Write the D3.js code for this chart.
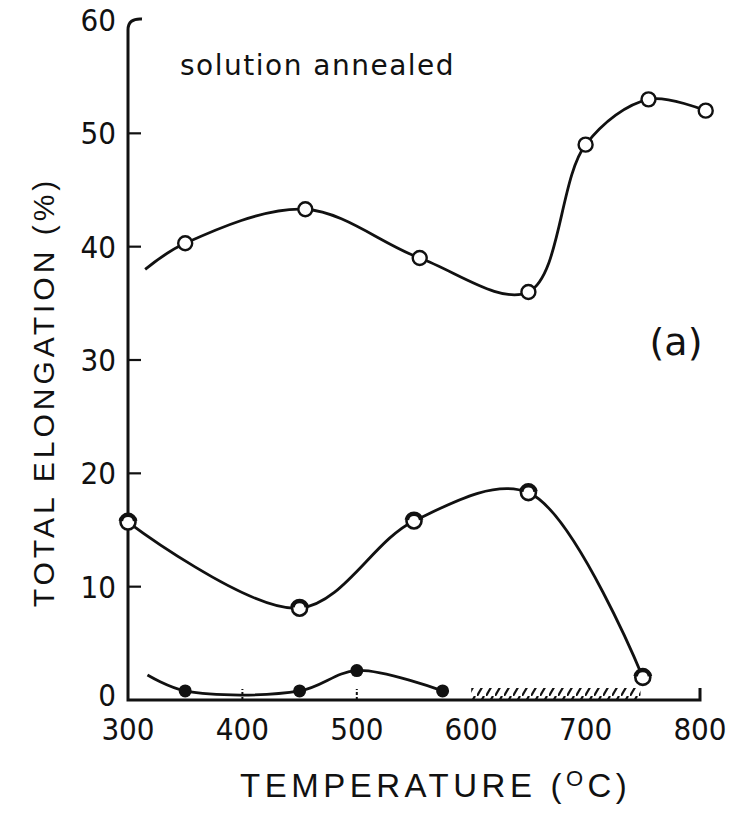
<!DOCTYPE html>
<html>
<head>
<meta charset="utf-8">
<script src="https://cdn.jsdelivr.net/npm/d3@7"></script>
<style>
  body { margin: 0; background: #fff; }
  text { fill: #111; }
</style>
</head>
<body>
<div id="chart"></div>
<script>
// values (temperature in C, elongation in %)
const upperTemp = [350, 455, 555, 650, 700, 755, 805];
const upperElong = [40.3, 43.3, 39, 36, 49, 53, 52];
const upperStart = [315, 38];

const midTemp = [300, 450, 550, 650, 750];
const midElong = [15.7, 8.1, 15.8, 18.3, 2];

const lowTemp = [350, 450, 500, 575];
const lowElong = [0.8, 0.8, 2.6, 0.8];
const lowStart = [317, 2.2];

const xTicks = [300, 400, 500, 600, 700, 800];
const yTicks = [0, 10, 20, 30, 40, 50, 60];
const hatchRange = [600, 748];

const svg = d3.select("#chart")
  .append("svg")
  .attr("width", 730)
  .attr("height", 827);

const x = d3.scaleLinear().domain([300, 800]).range([128, 700]);
const y = d3.scaleLinear().domain([0, 60]).range([700, 20]);

const ink = "#111";
const tickFont = "'DejaVu Sans Condensed', 'DejaVu Sans', sans-serif";

// axes
svg.append("path")
  .attr("d", `M${x(300) + 14},${y(60) - 1} Q${x(300)},${y(60) - 2} ${x(300)},${y(60) + 10} L${x(300)},${y(0)} L${x(800)},${y(0)} L${x(800)},${y(0) - 12}`)
  .attr("fill", "none")
  .attr("stroke", ink)
  .attr("stroke-width", 3);

svg.selectAll(".ytick")
  .data(yTicks.filter(d => d > 0 && d < 60))
  .enter()
  .append("line")
  .attr("x1", x(300))
  .attr("x2", x(300) + 13)
  .attr("y1", d => y(d))
  .attr("y2", d => y(d))
  .attr("stroke", ink)
  .attr("stroke-width", 2.2);

svg.selectAll(".xtick")
  .data([400, 500])
  .enter()
  .append("line")
  .attr("x1", d => x(d))
  .attr("x2", d => x(d))
  .attr("y1", y(0))
  .attr("y2", y(0) - 11)
  .attr("stroke", ink)
  .attr("stroke-width", 2)
  .attr("stroke-dasharray", "3,2");

svg.selectAll(".ylab")
  .data(yTicks)
  .enter()
  .append("text")
  .attr("x", x(300) - 12)
  .attr("y", d => y(d) + (d === 0 ? 6 : 11))
  .attr("text-anchor", "end")
  .attr("font-family", tickFont)
  .attr("font-size", 31)
  .text(d => d);

svg.selectAll(".xlab")
  .data(xTicks)
  .enter()
  .append("text")
  .attr("x", d => x(d))
  .attr("y", y(0) + 40)
  .attr("text-anchor", "middle")
  .attr("font-family", tickFont)
  .attr("font-size", 31)
  .text(d => d);

// hatched band on the baseline
const defs = svg.append("defs");
const pat = defs.append("pattern")
  .attr("id", "hatch")
  .attr("patternUnits", "userSpaceOnUse")
  .attr("width", 9)
  .attr("height", 12);
pat.append("path")
  .attr("d", "M0,12 L7,0")
  .attr("stroke", ink)
  .attr("stroke-width", 2.2);

svg.append("rect")
  .attr("x", x(hatchRange[0]))
  .attr("y", y(0) - 12)
  .attr("width", x(hatchRange[1]) - x(hatchRange[0]))
  .attr("height", 12)
  .attr("fill", "url(#hatch)");

// curves
const line = d3.line()
  .x(d => x(d[0]))
  .y(d => y(d[1]))
  .curve(d3.curveCatmullRom.alpha(0.5));

const upperPts = [upperStart].concat(upperTemp.map((t, i) => [t, upperElong[i]]));
const midPts = midTemp.map((t, i) => [t, midElong[i]]);
const lowPts = [lowStart].concat(lowTemp.map((t, i) => [t, lowElong[i]]));

[upperPts, midPts, lowPts].forEach(pts => {
  svg.append("path")
    .attr("d", line(pts))
    .attr("fill", "none")
    .attr("stroke", ink)
    .attr("stroke-width", 2.8);
});

// markers
svg.selectAll(".up")
  .data(upperTemp)
  .enter()
  .append("circle")
  .attr("cx", d => x(d))
  .attr("cy", (d, i) => y(upperElong[i]))
  .attr("r", 7)
  .attr("fill", "#fff")
  .attr("stroke", ink)
  .attr("stroke-width", 2.4);

const mid = svg.selectAll(".mid")
  .data(midTemp)
  .enter()
  .append("g")
  .attr("transform", (d, i) => `translate(${x(d)},${y(midElong[i])})`);
mid.append("circle")
  .attr("r", 7.5)
  .attr("fill", "#fff")
  .attr("stroke", ink)
  .attr("stroke-width", 2.6);
mid.append("path")
  .attr("d", d3.arc()({ innerRadius: 5, outerRadius: 9.5, startAngle: -Math.PI / 2.2, endAngle: Math.PI / 2.2 }))
  .attr("fill", ink);

svg.selectAll(".low")
  .data(lowTemp)
  .enter()
  .append("circle")
  .attr("cx", d => x(d))
  .attr("cy", (d, i) => y(lowElong[i]))
  .attr("r", 6.5)
  .attr("fill", ink);

// labels
svg.append("text")
  .attr("x", 180)
  .attr("y", 75)
  .attr("font-family", "'DejaVu Sans', sans-serif")
  .attr("font-size", 28)
  .attr("letter-spacing", 1.5)
  .text("solution annealed");

svg.append("text")
  .attr("x", 676)
  .attr("y", 355)
  .attr("text-anchor", "middle")
  .attr("font-family", "'DejaVu Sans', sans-serif")
  .attr("font-size", 38)
  .text("(a)");

svg.append("text")
  .attr("transform", `translate(54,${392}) rotate(-90)`)
  .attr("text-anchor", "middle")
  .attr("font-family", "'Liberation Sans', sans-serif")
  .attr("font-size", 30)
  .attr("letter-spacing", 4)
  .text("TOTAL ELONGATION (%)");

const xt = svg.append("text")
  .attr("x", 240)
  .attr("y", 797)
  .attr("font-family", "'Liberation Sans', sans-serif")
  .attr("font-size", 33)
  .attr("letter-spacing", 4.5);
xt.append("tspan").text("TEMPERATURE");
xt.append("tspan").attr("dx", 14).text("(");
xt.append("tspan").attr("font-size", 22).attr("dy", -11).text("O");
xt.append("tspan").attr("dy", 11).text("C)");
</script>
</body>
</html>
